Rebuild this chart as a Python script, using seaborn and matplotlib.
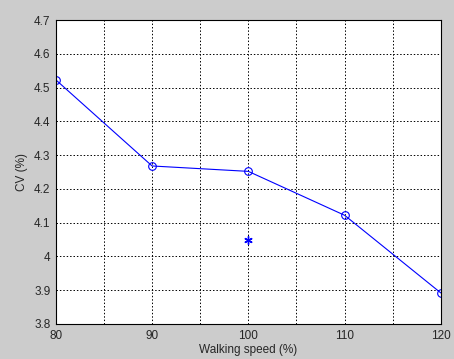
import matplotlib
matplotlib.use("Agg")
import matplotlib.pyplot as plt
import seaborn as sns
import pandas as pd

# walking speed vs CV
speed = [80, 90, 100, 110, 120]
cv = [4.523, 4.268, 4.252, 4.122, 3.892]
extra_speed = [100]
extra_cv = [4.049]

sns.set_style("white")
plt.rcParams['font.family'] = ['Liberation Sans', 'DejaVu Sans']

df = pd.DataFrame({"speed": speed, "cv": cv})

fig = plt.figure(figsize=(4.54, 3.59), dpi=100, facecolor="#cccccc")
ax = fig.add_axes([0.123, 0.0975, 0.848, 0.8465])
ax.set_facecolor("white")

sns.lineplot(data=df, x="speed", y="cv", ax=ax, color="blue", linewidth=0.8,
             marker="o", markersize=5.5, markerfacecolor="none",
             markeredgecolor="blue", markeredgewidth=0.8)
ax.plot(extra_speed, extra_cv, marker=(6, 2, 0), color="blue", linestyle="none",
        markersize=6, markeredgewidth=1.0)

ax.set_xlim(80, 120)
ax.set_ylim(3.8, 4.7)
ax.set_xticks(range(80, 121, 5))
ax.set_xticklabels([str(v) if v % 10 == 0 else "" for v in range(80, 121, 5)])
yt = [3.8 + 0.1 * i for i in range(10)]
ax.set_yticks(yt)
ax.set_yticklabels(["4" if abs(v - 4) < 1e-9 else "%.1f" % v for v in yt])
ax.grid(True, color="black", linestyle=(0, (1.5, 2)), linewidth=0.7)
ax.tick_params(labelsize=8.5, length=0, pad=4)
for s in ax.spines.values():
    s.set_color("black")
    s.set_linewidth(0.8)

ax.set_xlabel("Walking speed (%)", fontsize=8.5, labelpad=2)
ax.set_ylabel("CV (%)", fontsize=8.5, labelpad=4)

fig.savefig("out.png", dpi=100, facecolor=fig.get_facecolor())
